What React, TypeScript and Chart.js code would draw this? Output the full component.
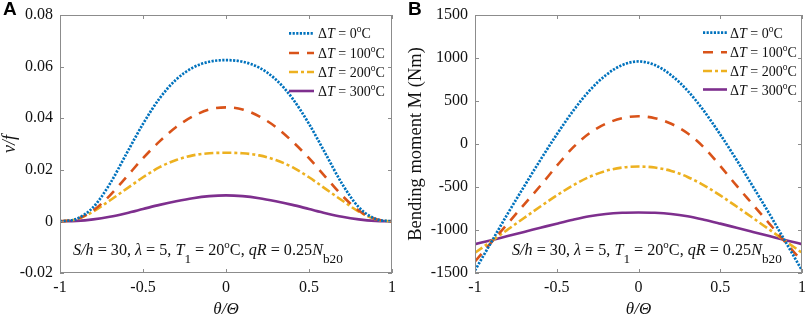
import React, { useEffect, useRef } from "react";
import { Chart, registerables } from "chart.js";

Chart.register(...registerables);

// ---------- data ----------
const THETA = [-1, -0.9, -0.8, -0.7, -0.6, -0.5, -0.4, -0.3, -0.2, -0.1, 0, 0.1, 0.2, 0.3, 0.4, 0.5, 0.6, 0.7, 0.8, 0.9, 1];
const X_TICKS = [-1, -0.5, 0, 0.5, 1];
const X_TICK_LABELS = ["-1", "-0.5", "0", "0.5", "1"];

const VF_TICKS = [-0.02, 0, 0.02, 0.04, 0.06, 0.08];
const VF_TICK_LABELS = ["-0.02", "0", "0.02", "0.04", "0.06", "0.08"];
const M_TICKS = [-1500, -1000, -500, 0, 500, 1000, 1500];
const M_TICK_LABELS = ["-1500", "-1000", "-500", "0", "500", "1000", "1500"];

const DT_LABELS = ["0", "100", "200", "300"];

// Panel A: v/f
const VF_DT0 = [0, 0.0010, 0.0055, 0.0145, 0.0262, 0.0378, 0.0477, 0.0550, 0.0596, 0.0619, 0.0625, 0.0619, 0.0596, 0.0550, 0.0477, 0.0378, 0.0262, 0.0145, 0.0055, 0.0010, 0];
const VF_DT100 = [0, 0.0009, 0.0042, 0.0100, 0.0172, 0.0245, 0.0310, 0.0366, 0.0407, 0.0434, 0.0442, 0.0434, 0.0407, 0.0366, 0.0310, 0.0245, 0.0172, 0.0100, 0.0042, 0.0009, 0];
const VF_DT200 = [0, 0.0008, 0.0038, 0.0081, 0.0126, 0.0171, 0.0210, 0.0238, 0.0256, 0.0264, 0.0266, 0.0264, 0.0256, 0.0238, 0.0210, 0.0171, 0.0126, 0.0081, 0.0038, 0.0008, 0];
const VF_DT300 = [0, 0.0002, 0.0008, 0.0018, 0.0032, 0.0048, 0.0064, 0.0078, 0.0090, 0.0098, 0.0101, 0.0098, 0.0090, 0.0078, 0.0064, 0.0048, 0.0032, 0.0018, 0.0008, 0.0002, 0];

// Panel B: bending moment (Nm)
const M_DT0 = [-1470, -1140, -810, -495, -185, 110, 385, 620, 800, 918, 960, 918, 800, 620, 385, 110, -185, -495, -810, -1140, -1470];
const M_DT100 = [-1365, -1145, -925, -705, -485, -255, -40, 125, 235, 300, 323, 300, 235, 125, -40, -255, -485, -705, -925, -1145, -1365];
const M_DT200 = [-1265, -1130, -995, -860, -727, -598, -480, -383, -313, -274, -262, -274, -313, -383, -480, -598, -727, -860, -995, -1130, -1265];
const M_DT300 = [-1165, -1118, -1070, -1022, -974, -926, -880, -840, -813, -800, -797, -800, -813, -840, -880, -926, -974, -1022, -1070, -1118, -1165];

// ---------- styles ----------
const COLORS = ["#0072BD", "#D95319", "#EDB120", "#7E2F8E"];
const WIDTHS = [2.7, 2.6, 2.6, 2.6];
const DASHES: number[][] = [[2.2, 1.4], [10, 8], [9, 3, 3, 3], []];
const SERIF = '"Liberation Serif", "Times New Roman", serif';
const TEXT = "#111111";
const FRAME = "#8c8c8c";

type Seg = { t: string; it?: boolean; sup?: boolean; sub?: boolean };

function segFont(s: Seg, size: number) {
  const sz = s.sup ? size * 0.68 : s.sub ? size * 0.82 : size;
  return `${s.it ? "italic " : ""}${sz}px ${SERIF}`;
}
function richWidth(ctx: CanvasRenderingContext2D, segs: Seg[], size: number) {
  let w = 0;
  for (const s of segs) {
    ctx.font = segFont(s, size);
    w += ctx.measureText(s.t).width;
  }
  return w;
}
function drawRich(ctx: CanvasRenderingContext2D, segs: Seg[], x: number, base: number, size: number) {
  let cx = x;
  ctx.textBaseline = "alphabetic";
  ctx.textAlign = "left";
  for (const s of segs) {
    ctx.font = segFont(s, size);
    const dy = s.sup ? -size * 0.42 : s.sub ? size * 0.5 : 0;
    ctx.fillText(s.t, cx, base + dy);
    cx += ctx.measureText(s.t).width;
  }
}

const ANNOTATION: Seg[] = [
  { t: "S/h", it: true }, { t: " = 30, " }, { t: "λ", it: true }, { t: " = 5, " },
  { t: "T", it: true }, { t: "1", sub: true }, { t: " = 20" }, { t: "o", sup: true }, { t: "C, " },
  { t: "qR", it: true }, { t: " = 0.25" }, { t: "N", it: true }, { t: "b20", sub: true },
];

function legendSegs(v: string): Seg[] {
  return [{ t: "Δ" }, { t: "T", it: true }, { t: " = " + v }, { t: "o", sup: true }, { t: "C" }];
}

interface PanelCfg {
  label: string;
  labelX: number;
  yMin: number;
  yMax: number;
  yTicks: number[];
  yTickLabels: string[];
  yTitle: string;
  yTitleItalic: boolean;
  yTitleSize: number;
  yTitlePad: number;
  axisWidth: number;
  padRight: number;
  series: number[][];
  legendX: number;
  legendLen: number;
  legendTextX: number;
  legendRows: number[];
  annoX: number;
}

const PANEL_A: PanelCfg = {
  label: "A", labelX: 3,
  yMin: -0.02, yMax: 0.08, yTicks: VF_TICKS, yTickLabels: VF_TICK_LABELS,
  yTitle: "v/f", yTitleItalic: true, yTitleSize: 18, yTitlePad: 1,
  axisWidth: 60, padRight: 11,
  series: [VF_DT0, VF_DT100, VF_DT200, VF_DT300],
  legendX: 289, legendLen: 25, legendTextX: 318, legendRows: [33.3, 53, 72, 91],
  annoX: 73,
};

const PANEL_B: PanelCfg = {
  label: "B", labelX: 5,
  yMin: -1500, yMax: 1500, yTicks: M_TICKS, yTickLabels: M_TICK_LABELS,
  yTitle: "Bending moment M (Nm)", yTitleItalic: false, yTitleSize: 18.5, yTitlePad: 3.5,
  axisWidth: 72, padRight: 4,
  series: [M_DT0, M_DT100, M_DT200, M_DT300],
  legendX: 300, legendLen: 24, legendTextX: 327, legendRows: [32.7, 52.3, 71, 89.5],
  annoX: 109,
};

function makeDecorPlugin(cfg: PanelCfg) {
  return {
    id: "decor" + cfg.label,
    afterDatasetsDraw(chart: any) {
      const { ctx, chartArea } = chart;
      const { left, top, right, bottom } = chartArea;
      const xs = chart.scales.x;
      const ys = chart.scales.y;
      ctx.save();
      ctx.strokeStyle = FRAME;
      ctx.lineWidth = 1;
      ctx.setLineDash([]);
      ctx.strokeRect(left + 0.5, top + 0.5, right - left - 1, bottom - top - 1);
      ctx.beginPath();
      X_TICKS.forEach((v) => {
        const px = Math.round(xs.getPixelForValue(v)) + 0.5;
        ctx.moveTo(px, bottom);
        ctx.lineTo(px, bottom - 4);
        ctx.moveTo(px, top);
        ctx.lineTo(px, top + 4);
      });
      cfg.yTicks.forEach((v) => {
        const py = Math.round(ys.getPixelForValue(v)) + 0.5;
        ctx.moveTo(left, py);
        ctx.lineTo(left + 4, py);
        ctx.moveTo(right, py);
        ctx.lineTo(right - 4, py);
      });
      ctx.stroke();

      // legend
      cfg.legendRows.forEach((yc, i) => {
        ctx.strokeStyle = COLORS[i];
        ctx.lineWidth = WIDTHS[i];
        ctx.lineCap = "butt";
        ctx.setLineDash(DASHES[i]);
        ctx.beginPath();
        ctx.moveTo(cfg.legendX, yc);
        ctx.lineTo(cfg.legendX + cfg.legendLen, yc);
        ctx.stroke();
        ctx.setLineDash([]);
        ctx.fillStyle = TEXT;
        drawRich(ctx, legendSegs(DT_LABELS[i]), cfg.legendTextX, yc + 5, 14);
      });

      // annotation
      ctx.fillStyle = TEXT;
      const w16 = richWidth(ctx, ANNOTATION, 16);
      const size = (16 * 270) / w16;
      drawRich(ctx, ANNOTATION, cfg.annoX, 255, size);

      // panel label
      ctx.font = `bold 19px "Liberation Sans", Arial, sans-serif`;
      ctx.fillStyle = "#000";
      ctx.textAlign = "left";
      ctx.textBaseline = "alphabetic";
      ctx.fillText(cfg.label, cfg.labelX, 15);
      ctx.restore();
    },
  };
}

function Panel({ cfg }: { cfg: PanelCfg }) {
  const ref = useRef<HTMLCanvasElement | null>(null);
  useEffect(() => {
    if (!ref.current) return;
    const chart = new Chart(ref.current, {
      type: "line",
      data: {
        datasets: cfg.series.map((arr, i) => ({
          label: "ΔT = " + DT_LABELS[i] + "°C",
          data: THETA.map((x, j) => ({ x, y: arr[j] })),
          borderColor: COLORS[i],
          borderWidth: WIDTHS[i],
          borderDash: DASHES[i],
          borderCapStyle: "butt" as const,
          pointRadius: 0,
          cubicInterpolationMode: "monotone" as const,
          fill: false,
        })),
      },
      options: {
        responsive: false,
        animation: false,
        events: [],
        layout: { padding: { top: 15, right: cfg.padRight, left: 0, bottom: 0 } },
        plugins: { legend: { display: false }, tooltip: { enabled: false } },
        scales: {
          x: {
            type: "linear",
            min: -1,
            max: 1,
            grid: { display: false, drawTicks: false },
            border: { display: false },
            afterBuildTicks: (s: any) => {
              s.ticks = X_TICKS.map((v) => ({ value: v }));
            },
            afterFit: (s: any) => {
              s.height = 43;
              s.paddingLeft = 0;
              s.paddingRight = 0;
            },
            ticks: {
              padding: 5,
              maxRotation: 0,
              autoSkip: false,
              color: TEXT,
              font: { family: SERIF, size: 16 },
              callback: (_v: any, i: number) => X_TICK_LABELS[i],
            },
            title: {
              display: true,
              text: "θ/Θ",
              color: TEXT,
              font: { family: SERIF, size: 17, style: "italic", lineHeight: 1 },
              padding: { top: 0, bottom: -2.5 },
            },
          },
          y: {
            type: "linear",
            min: cfg.yMin,
            max: cfg.yMax,
            grid: { display: false, drawTicks: false },
            border: { display: false },
            afterBuildTicks: (s: any) => {
              s.ticks = cfg.yTicks.map((v) => ({ value: v }));
            },
            afterFit: (s: any) => {
              s.width = cfg.axisWidth;
              s.paddingTop = 0;
              s.paddingBottom = 0;
            },
            ticks: {
              padding: 7,
              autoSkip: false,
              color: TEXT,
              font: { family: SERIF, size: 16 },
              callback: (_v: any, i: number) => cfg.yTickLabels[i],
            },
            title: {
              display: true,
              text: cfg.yTitle,
              color: TEXT,
              font: { family: SERIF, size: cfg.yTitleSize, style: cfg.yTitleItalic ? "italic" : "normal", lineHeight: 1 },
              padding: { top: cfg.yTitlePad, bottom: 0 },
            },
          },
        },
      },
      plugins: [makeDecorPlugin(cfg)],
    } as any);
    return () => chart.destroy();
  }, [cfg]);
  return <canvas ref={ref} width={403} height={316} style={{ display: "block", width: 403, height: 316 }} />;
}

export default function App() {
  return (
    <div style={{ position: "absolute", left: 0, top: 0, width: 806, height: 316, display: "flex", background: "#fff" }}>
      <Panel cfg={PANEL_A} />
      <Panel cfg={PANEL_B} />
    </div>
  );
}
